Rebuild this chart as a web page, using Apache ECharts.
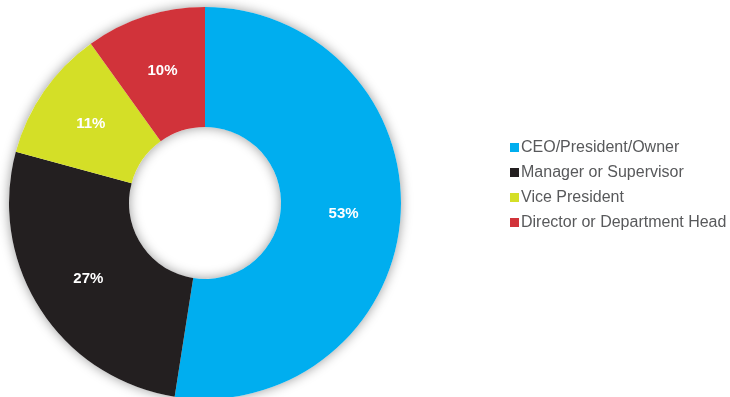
<!DOCTYPE html>
<html>
<head>
<meta charset="utf-8">
<style>
  html, body { margin: 0; padding: 0; background: #ffffff; }
  #chart { width: 730px; height: 397px; }
</style>
<script src="https://cdn.jsdelivr.net/npm/echarts@6/dist/echarts.min.js"></script>
</head>
<body>
<div id="chart"></div>
<script>
// Respondent job titles, share in percent
const categories = ['CEO/President/Owner', 'Manager or Supervisor', 'Vice President', 'Director or Department Head'];
const shares = [53, 27, 11, 10];
const colors = ['#00aeef', '#231f20', '#d4df27', '#d1333a'];

const chart = echarts.init(document.getElementById('chart'), null, { renderer: 'canvas' });

const center = [205, 203];
const radius = [76, 196];

chart.setOption({
  animation: false,
  backgroundColor: '#ffffff',
  color: colors,
  legend: {
    orient: 'vertical',
    left: 510,
    top: 139,
    padding: 0,
    itemWidth: 9,
    itemHeight: 9,
    itemGap: 8,
    icon: 'rect',
    data: categories,
    textStyle: {
      fontFamily: '"Liberation Sans", Arial, sans-serif',
      fontSize: 16,
      lineHeight: 17,
      color: '#58595b',
      padding: [0, 0, 0, -3]
    }
  },
  series: [
    {
      // soft halo behind the ring
      type: 'pie',
      silent: true,
      center: center,
      radius: radius,
      label: { show: false },
      labelLine: { show: false },
      itemStyle: {
        color: '#ffffff',
        shadowBlur: 12,
        shadowColor: 'rgba(0,0,0,0.4)'
      },
      data: [{ value: 1, name: '__ring' }]
    },
    {
      type: 'pie',
      center: center,
      radius: radius,
      startAngle: 90,
      clockwise: true,
      avoidLabelOverlap: false,
      itemStyle: { borderWidth: 0 },
      label: {
        show: true,
        position: 'inside',
        formatter: '{c}%',
        color: '#ffffff',
        fontFamily: '"Liberation Sans", Arial, sans-serif',
        fontWeight: 'bold',
        fontSize: 15
      },
      labelLine: { show: false },
      data: categories.map((name, i) => ({ name: name, value: shares[i] }))
    }
  ]
});
</script>
</body>
</html>
